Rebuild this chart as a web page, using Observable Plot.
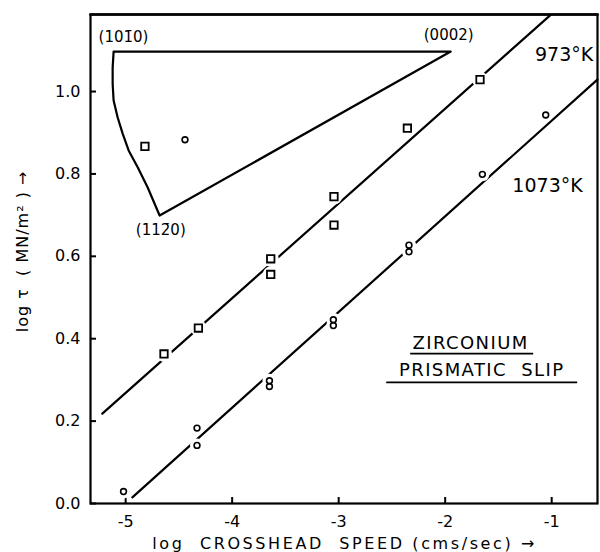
<!DOCTYPE html>
<html>
<head>
<meta charset="utf-8">
<script src="https://cdn.jsdelivr.net/npm/d3@7"></script>
<script src="https://cdn.jsdelivr.net/npm/@observablehq/plot@0.6"></script>
<style>
  html, body { margin: 0; padding: 0; background: #fff; }
  svg { font-family: "DejaVu Sans", sans-serif; display: block; }
</style>
</head>
<body>
<div id="chart"></div>
<script>
// ---- data ----
const xTicks = [-5, -4, -3, -2, -1];
const yTicks = [0.0, 0.2, 0.4, 0.6, 0.8, 1.0];

// 973 K (squares)
const sqX = [-4.64, -4.317, -3.638, -3.638, -3.044, -3.044, -2.355, -1.673];
const sqY = [0.363, 0.426, 0.594, 0.556, 0.745, 0.676, 0.911, 1.029];
// 1073 K (circles)
const ciX = [-5.02, -4.33, -4.33, -3.65, -3.65, -3.05, -3.05, -2.34, -2.34, -1.651, -1.056];
const ciY = [0.029, 0.141, 0.183, 0.284, 0.298, 0.432, 0.446, 0.611, 0.627, 0.799, 0.943];
// fitted lines (end points)
const line973X = [-5.219, -1.015];
const line973Y = [0.218, 1.185];
const line1073X = [-4.937, -0.571];
const line1073Y = [0.015, 1.029];

// orientation (stereographic) triangle
const triX = [-5.113, -1.948, -4.681, -4.793, -4.887, -4.972, -5.028, -5.075, -5.113, -5.122, -5.122, -5.113];
const triY = [1.097, 1.097, 0.699, 0.767, 0.816, 0.857, 0.898, 0.937, 0.978, 1.019, 1.058, 1.097];
const triSqX = [-4.819], triSqY = [0.867];
const triCiX = [-4.443], triCiY = [0.883];

// annotation labels
const poleLabels = ["(101\u03040)", "(0002)", "(112\u03040)"];
const poleX = [-5.02, -1.967, -4.67];
const poleY = [1.131, 1.136, 0.663];
const tempLabels = ["973°K", "1073°K"];
const tempX = [-0.61, -0.709];
const tempY = [1.090, 0.772];
const titleLabels = ["ZIRCONIUM", "PRISMATIC  SLIP"];
const titleX = [-1.761, -1.657];
const titleY = [0.388, 0.323];
const ulX1 = [-2.324, -2.549], ulX2 = [-1.169, -0.756], ulY = [0.364, 0.294];

const xLabel = "log  CROSSHEAD  SPEED (cms/sec) \u2192";
const yLabel = "log \u03C4  ( MN/m\u00B2 ) \u2192";

const xDomain = [-5.33, -0.57];
const yDomain = [0, 1.187];

// ---- build tables ----
const zip = (xs, ys) => xs.map((x, i) => ({x, y: ys[i]}));
const sq = zip(sqX, sqY);
const ci = zip(ciX, ciY);
const l973 = zip(line973X, line973Y);
const l1073 = zip(line1073X, line1073Y);
const tri = zip(triX, triY);
const tsq = zip(triSqX, triSqY);
const tci = zip(triCiX, triCiY);
const poles = poleLabels.map((t, i) => ({t, x: poleX[i], y: poleY[i]}));
const temps = tempLabels.map((t, i) => ({t, x: tempX[i], y: tempY[i]}));
const titles = titleLabels.map((t, i) => ({t, x: titleX[i], y: titleY[i]}));
const ul = ulY.map((y, i) => ({x1: ulX1[i], x2: ulX2[i], y}));
const border = [{x: xDomain[0], y: yDomain[1]}, {x: xDomain[1], y: yDomain[1]}];

const tickLenX = (xDomain[1] - xDomain[0]) * 6 / 507;
const tickLenY = (yDomain[1] - yDomain[0]) * 6 / 489;

const chart = Plot.plot({
  width: 600,
  height: 552,
  marginLeft: 90,
  marginRight: 3,
  marginTop: 14,
  marginBottom: 49,
  style: {fontFamily: "DejaVu Sans, sans-serif", color: "black"},
  x: {domain: xDomain},
  y: {domain: yDomain},
  marks: [
    Plot.frame({stroke: "black", strokeWidth: 2.2}),
    Plot.axisX({ticks: xTicks, tickSize: 0, tickPadding: 12, fontSize: 16, label: null,
                tickFormat: d => String(d)}),
    Plot.axisY({ticks: yTicks, tickSize: 0, tickPadding: 10, fontSize: 16, label: null,
                tickFormat: d => d.toFixed(1)}),
    Plot.ruleX(xTicks, {x: d => d, y1: yDomain[0], y2: yDomain[0] + tickLenY, stroke: "black", strokeWidth: 2}),
    Plot.ruleY(yTicks, {y: d => d, x1: xDomain[0], x2: xDomain[0] + tickLenX, stroke: "black", strokeWidth: 2}),
    // triangle
    Plot.line(tri, {x: "x", y: "y", stroke: "black", strokeWidth: 2.2, curve: "linear"}),
    // fitted lines
    Plot.line(l973, {x: "x", y: "y", stroke: "black", strokeWidth: 2.2}),
    Plot.line(l1073, {x: "x", y: "y", stroke: "black", strokeWidth: 2.2}),
    // gaps in the lines around the points
    Plot.dot(sq, {x: "x", y: "y", r: 8, fill: "white", stroke: null}),
    Plot.dot(ci, {x: "x", y: "y", r: 7, fill: "white", stroke: null}),
    // markers
    Plot.dot(sq.concat(tsq), {x: "x", y: "y", symbol: "square", r: 4.2, fill: "white", stroke: "black", strokeWidth: 1.8}),
    Plot.dot(ci.concat(tci), {x: "x", y: "y", r: 2.9, fill: "white", stroke: "black", strokeWidth: 1.6}),
    // labels
    Plot.text(poles, {x: "x", y: "y", text: "t", fontSize: 15, fill: "black"}),
    Plot.text(temps, {x: "x", y: "y", text: "t", textAnchor: "end", fontSize: 19, fill: "black"}),
    Plot.text(titles, {x: "x", y: "y", text: "t", fontSize: 18, fill: "black"}),
    Plot.ruleY(ul, {y: "y", x1: "x1", x2: "x2", stroke: "black", strokeWidth: 1.8}),
    Plot.text([xLabel], {x: -2.944, y: -0.097, text: d => d, fontSize: 16, fill: "black"}),
    Plot.text([yLabel], {x: -5.967, y: 0.612, text: d => d, fontSize: 16, rotate: -90, fill: "black"}),
    // top border of the frame
    Plot.line(border, {x: "x", y: "y", stroke: "black", strokeWidth: 2.6})
  ]
});
// widen the letter spacing like the hand lettering
const sel = d3.select(chart).selectAll("text");
sel.filter(function() { return this.textContent === xLabel; }).attr("letter-spacing", "2.6px");
sel.filter(function() { return this.textContent === yLabel; }).attr("letter-spacing", "1px");
sel.filter(function() { return titleLabels.includes(this.textContent); }).attr("letter-spacing", "1.4px");
document.getElementById("chart").appendChild(chart);
</script>
</body>
</html>
